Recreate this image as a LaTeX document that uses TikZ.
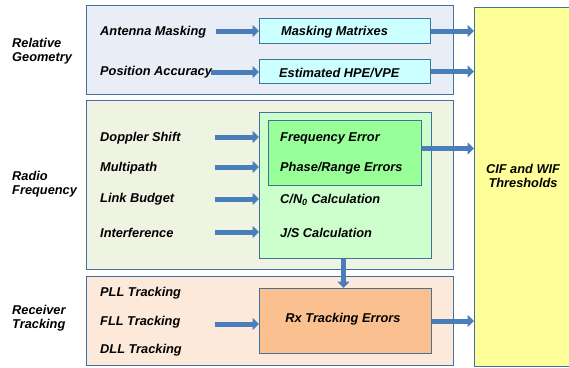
\documentclass[tikz,border=0pt]{standalone}
\usepackage{fontspec}
\setmainfont{Liberation Sans}
\usetikzlibrary{arrows.meta}
\definecolor{edgec}{HTML}{41719C}
\definecolor{arrowc}{HTML}{4A7EBB}
\definecolor{geofill}{HTML}{E9EDF5}
\definecolor{rffill}{HTML}{EEF3E2}
\definecolor{rxfill}{HTML}{FDE9DA}
\definecolor{cyanfill}{HTML}{CCFFFF}
\definecolor{lgreen}{HTML}{CCFFCC}
\definecolor{bgreen}{HTML}{99FF99}
\definecolor{orangefill}{HTML}{FAC090}
\definecolor{yellowfill}{HTML}{FFFF99}
\begin{document}
\begin{tikzpicture}[x=1pt,y=-1pt,
  font=\fontsize{12.8}{14.5}\selectfont\bfseries\itshape,
  box/.style={draw=edgec, line width=1pt, inner sep=0pt, anchor=north west},
  txt/.style={anchor=west, inner sep=0pt, yshift=-1.5pt},
  lbl/.style={anchor=west, inner sep=0pt, align=left},
  flow/.style={line width=5pt, draw=arrowc, -{Triangle[width=12pt,length=6.5pt]}}]
\useasboundingbox (0,0) rectangle (569,367);
\clip (0,0) rectangle (569,367);

% panels
\node[box, fill=geofill, minimum width=367pt, minimum height=89pt] (geo) at (86,5) {};
\node[box, fill=rffill, minimum width=367pt, minimum height=169pt] (rf) at (86,100) {};
\node[box, fill=rxfill, minimum width=367pt, minimum height=89pt] (rxp) at (86,276) {};
\node[box, fill=yellowfill, minimum width=110pt, minimum height=359pt] (thr) at (474,7) {};
\node[align=center, inner sep=0pt] (thrtxt) at (523,176) {CIF and WIF\\Thresholds};

% left labels
\node[lbl] (lgeo) at (12,51) {Relative\\Geometry};
\node[lbl] (lrf) at (12,184) {Radio\\Frequency};
\node[lbl] (lrx) at (12,318) {Receiver\\Tracking};

% geometry row
\node[box, fill=cyanfill, minimum width=171pt, minimum height=25pt] (mm) at (259,18) {};
\node[txt] (mmt) at (281,31) {Masking Matrixes};
\node[box, fill=cyanfill, minimum width=171pt, minimum height=24pt] (hpe) at (259,59) {};
\node[txt] (hpet) at (279,71) {Estimated HPE/VPE};
\node[txt] (am) at (100,31) {Antenna Masking};
\node[txt] (pa) at (100,71) {Position Accuracy};
\coordinate (amc) at (216,31);
\coordinate (pac) at (211,72);
\draw[flow] (amc) -- (amc -| mm.west);
\draw[flow] (pac) -- (pac -| hpe.west);
\draw[flow] (mm.east) -- (mm.east -| thr.west);
\draw[flow] (hpe.east) -- (hpe.east -| thr.west);

% radio frequency row
\node[box, fill=lgreen, minimum width=172pt, minimum height=146pt] (cn) at (259,112) {};
\node[box, fill=bgreen, minimum width=153pt, minimum height=65pt] (fe) at (268,120) {};
\node[txt] (fet) at (280,137) {Frequency Error};
\node[txt] (pre) at (280,167) {Phase/Range Errors};
\node[txt] (cnt) at (280,198) {C/N\textsubscript{0} Calculation};
\node[txt] (jst) at (280,231) {J/S Calculation};
\node[txt] (ds) at (100,137) {Doppler Shift};
\node[txt] (mp) at (100,167) {Multipath};
\node[txt] (lb) at (100,198) {Link Budget};
\node[txt] (inf) at (100,231) {Interference};
\coordinate (dsc) at (215,137);
\coordinate (mpc) at (215,167);
\coordinate (lbc) at (215,199);
\coordinate (infc) at (215,232);
\draw[flow] (dsc) -- (dsc -| cn.west);
\draw[flow] (mpc) -- (mpc -| cn.west);
\draw[flow] (lbc) -- (lbc -| cn.west);
\draw[flow] (infc) -- (infc -| cn.west);
\draw[flow] ([yshift=4.5pt]fe.east) -- ([yshift=4.5pt]fe.east -| thr.west);

% receiver tracking row
\node[box, fill=orangefill, minimum width=172pt, minimum height=65pt] (rx) at (259,288) {};
\node[inner sep=0pt, yshift=-1.5pt] (rxt) at (343,318) {Rx Tracking Errors};
\node[txt] (pll) at (100,292) {PLL Tracking};
\node[txt] (fll) at (100,321) {FLL Tracking};
\node[txt] (dll) at (100,349) {DLL Tracking};
\coordinate (fllc) at (215,324);
\draw[flow] (fllc) -- (fllc -| rx.west);
\draw[flow] ([xshift=-2pt]cn.south) -- ([xshift=-2pt]rx.north);
\draw[flow] (rx.east) -- (rx.east -| thr.west);
\end{tikzpicture}
\end{document}
